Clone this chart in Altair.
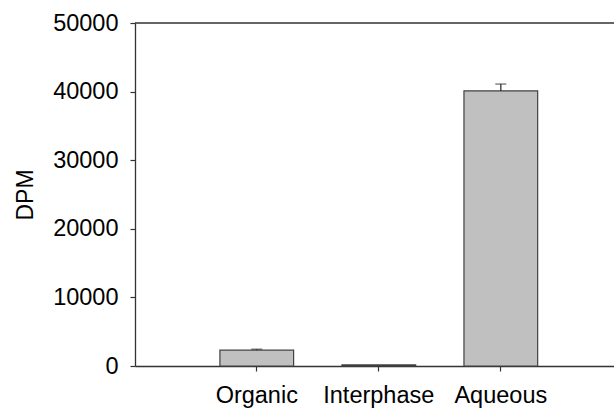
import altair as alt
import pandas as pd

categories = ["Organic", "Interphase", "Aqueous"]
values = [2300, 150, 40100]
errors = [150, 0, 1000]

df = pd.DataFrame({"cat": categories, "val": values, "err": errors})
df["top"] = df["val"] + df["err"]

font = "Liberation Sans"
axis_color = "#333333"

PLOT_W = 482

x_enc = alt.X("cat:N", sort=categories, title=None,
              scale=alt.Scale(paddingInner=0.396, paddingOuter=0.673, align=0.517),
              axis=alt.Axis(labelAngle=0, labelFontSize=23.5, labelFont=font, labelColor="black",
                            labelPadding=12, tickSize=5, tickColor=axis_color, tickWidth=1.2,
                            domainColor=axis_color, domainWidth=1.3))
y_scale = alt.Scale(domain=[0, 50000], nice=False)
y_axis = alt.Axis(values=[0, 10000, 20000, 30000, 40000, 50000], grid=False, format="d",
                  labelFontSize=23.5, labelFont=font, labelColor="black", labelPadding=12,
                  tickSize=5, tickColor=axis_color, tickWidth=1.2,
                  domainColor=axis_color, domainWidth=1.3,
                  title="DPM", titleFontSize=23, titleFont=font, titleFontWeight="normal",
                  titleColor="black", titlePadding=15)

base = alt.Chart(df)

bars = base.mark_bar(color="#c0c0c0", stroke="#404040", strokeWidth=1.2).encode(
    x=x_enc,
    y=alt.Y("val:Q", scale=y_scale, axis=y_axis),
)

err_line = base.transform_filter("datum.err > 0").mark_rule(color="#333333", strokeWidth=1.3).encode(
    x=alt.X("cat:N", sort=categories),
    y=alt.Y("val:Q"),
    y2="top:Q",
)
err_cap = base.transform_filter("datum.err > 0").mark_tick(color="#333333", thickness=1.3, size=11).encode(
    x=alt.X("cat:N", sort=categories),
    y=alt.Y("top:Q"),
)

one = pd.DataFrame({"v": [0]})

# top frame line
top_line = alt.Chart(one).mark_rule(color=axis_color, strokeWidth=1.3).encode(
    y=alt.value(0),
    x=alt.value(0),
    x2=alt.value(PLOT_W),
)

# the plot area runs a few pixels past the right edge of the canvas,
# so the frame is open on the right as in the reference
chart = alt.layer(bars, err_line, err_cap, top_line).properties(
    width=PLOT_W, height=343,
    autosize=alt.AutoSizeParams(type="none"),
    padding={"left": 135, "top": 23, "right": -3, "bottom": 42},
).configure(background="white",
            view=alt.ViewConfig(stroke="transparent", strokeWidth=0, strokeOpacity=0))

chart.save("out.html", embed_options={"renderer": "svg", "actions": False})
